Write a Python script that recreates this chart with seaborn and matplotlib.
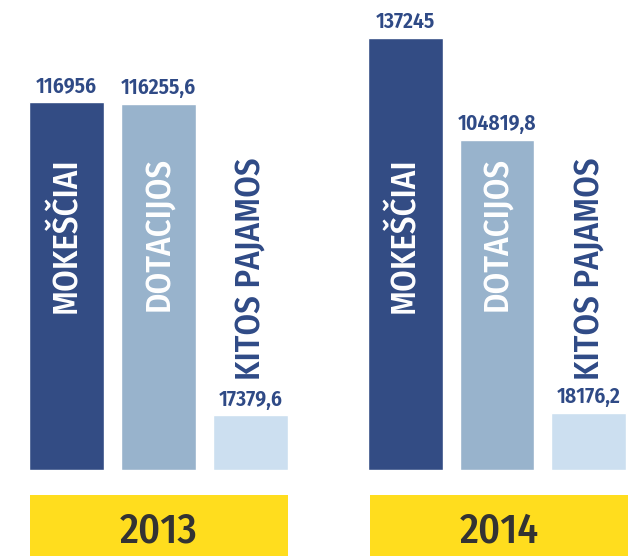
import matplotlib
matplotlib.use("Agg")
import matplotlib.pyplot as plt
import matplotlib.transforms as mtransforms
from matplotlib.patches import Rectangle
import seaborn as sns
import pandas as pd

years = ["2013", "2014"]
categories = ["MOKEŠČIAI", "DOTACIJOS", "KITOS PAJAMOS"]
mokesciai = [116956, 137245]
dotacijos = [116255.6, 104819.8]
kitos = [17379.6, 18176.2]

colors = ["#334C84", "#98B3CC", "#CCDFF0"]
label_colors = ["white", "white", "#2F4A86"]
navy = "#2F4A86"
yellow = "#FFDD1E"

sns.set_style("white")
plt.rcParams["font.family"] = ["Fira Sans Condensed", "DejaVu Sans"]

rows = []
for cat, vals in zip(categories, [mokesciai, dotacijos, kitos]):
    for y, v in zip(years, vals):
        rows.append({"year": y, "cat": cat, "value": v})
df = pd.DataFrame(rows)

W, H = 636, 556
fig = plt.figure(figsize=(W / 100, H / 100), dpi=100)
base_px = 470
ax = fig.add_axes([0, (H - base_px) / H, 1, base_px / H])

sns.barplot(data=df, x="year", y="value", hue="cat", order=years,
            hue_order=categories, palette=colors, width=0.815, gap=0.185,
            saturation=1, legend=False, ax=ax)

unit = 338.5
c0 = 158.5
ax.set_xlim(-c0 / unit, (W - c0) / unit)
ax.set_ylim(0, 149200)
ax.axis("off")


def fmt(v):
    if float(v).is_integer():
        return str(int(v))
    return f"{v:.1f}".replace(".", ",")


tr = mtransforms.blended_transform_factory(ax.transData, ax.transAxes)
for cont, vals, cat, lc in zip(ax.containers, [mokesciai, dotacijos, kitos], categories, label_colors):
    ax.bar_label(cont, labels=[fmt(v) for v in vals], padding=3.5,
                 fontsize=15.5, fontweight=600, color=navy)
    for bar in cont:
        cx = bar.get_x() + bar.get_width() / 2
        ax.text(cx, (base_px - 157) / base_px, cat, rotation=90, ha="center",
                va="top", fontsize=25, fontweight=500, color=lc, transform=tr)

# year boxes
trf = mtransforms.blended_transform_factory(ax.transData, fig.transFigure)
half = 129 / unit
for i, y in enumerate(years):
    cx = i + (0.5 / unit if i == 0 else 2 / unit)
    fig.add_artist(Rectangle((cx - half, 0), 2 * half, 61 / H, transform=trf,
                             facecolor=yellow, edgecolor="none", clip_on=False))
    fig.text(cx, (H - 542.5) / H, y, transform=trf, ha="center", va="baseline",
             fontsize=30, fontweight=500, color="#333333")

fig.savefig("out.png", dpi=100)
